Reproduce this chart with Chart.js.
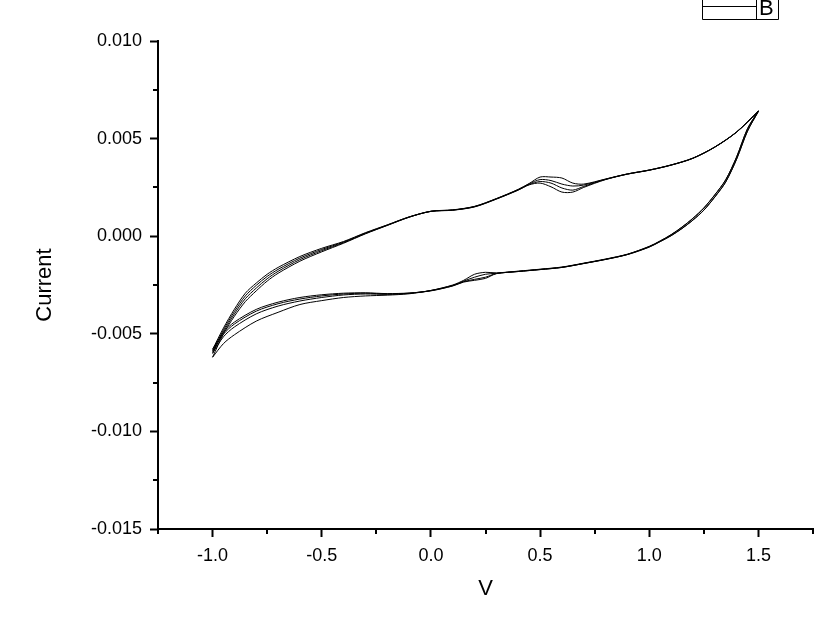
<!DOCTYPE html>
<html>
<head>
<meta charset="utf-8">
<script src="https://cdn.jsdelivr.net/npm/chart.js@4.4.1/dist/chart.umd.min.js"></script>
<style>
  body { margin: 0; background: #fff; }
  canvas { display: block; }
</style>
</head>
<body>
<canvas id="myChart" width="837" height="630"></canvas>
<script>
'use strict';
// potential steps (V), forward sweep and reverse sweep
let fwdV = [-1.0, -0.95, -0.9, -0.85, -0.8, -0.75, -0.7, -0.6, -0.5, -0.4, -0.3, -0.2, -0.1, 0.0, 0.1, 0.2, 0.3, 0.4, 0.45, 0.5, 0.55, 0.6, 0.65, 0.7, 0.8, 0.9, 1.0, 1.1, 1.2, 1.3, 1.4, 1.5];
let revV = [1.5, 1.45, 1.4, 1.35, 1.3, 1.25, 1.2, 1.15, 1.1, 1.05, 1.0, 0.9, 0.8, 0.7, 0.6, 0.5, 0.4, 0.3, 0.25, 0.2, 0.15, 0.1, 0.0, -0.1, -0.2, -0.3, -0.4, -0.5, -0.6, -0.7, -0.8, -0.9, -0.95, -1.0];

// current (A) for each cycle
let fwd1 = [-0.0062, -0.005, -0.0041, -0.00335, -0.0028, -0.0023, -0.0019, -0.00128, -0.0008, -0.00036, 0.00012, 0.00055, 0.00097, 0.00128, 0.00135, 0.00153, 0.00193, 0.0024, 0.0027, 0.00303, 0.00303, 0.00298, 0.00272, 0.00267, 0.00293, 0.00319, 0.00339, 0.00365, 0.004, 0.00457, 0.00534, 0.00642];
let fwd2 = [-0.006, -0.0049, -0.00398, -0.0032, -0.00266, -0.00218, -0.0018, -0.0012, -0.00074, -0.00033, 0.00014, 0.00056, 0.00098, 0.00128, 0.00134, 0.00152, 0.00192, 0.00239, 0.00268, 0.0029, 0.00285, 0.00267, 0.00257, 0.00262, 0.00292, 0.00319, 0.00339, 0.00365, 0.004, 0.00457, 0.00534, 0.00641];
let fwd3 = [-0.0059, -0.0048, -0.00386, -0.00306, -0.00252, -0.00206, -0.0017, -0.00112, -0.00068, -0.0003, 0.00016, 0.00057, 0.00098, 0.00127, 0.00134, 0.00151, 0.00191, 0.00237, 0.00265, 0.0028, 0.00272, 0.00247, 0.00236, 0.00255, 0.00291, 0.00318, 0.00338, 0.00364, 0.00399, 0.00456, 0.00533, 0.0064];
let fwd4 = [-0.0058, -0.0047, -0.00374, -0.00292, -0.0024, -0.00195, -0.0016, -0.00104, -0.00062, -0.00027, 0.00018, 0.00058, 0.00099, 0.00127, 0.00133, 0.0015, 0.0019, 0.00236, 0.00263, 0.00272, 0.00253, 0.00226, 0.00226, 0.0025, 0.0029, 0.00318, 0.00338, 0.00364, 0.00399, 0.00456, 0.00533, 0.00639];

let rev1 = [0.00642, 0.00551, 0.00406, 0.00289, 0.00212, 0.00145, 0.00092, 0.00047, 0.00008, -0.00024, -0.00052, -0.00092, -0.00117, -0.00138, -0.00158, -0.00169, -0.00179, -0.00188, -0.00185, -0.00195, -0.00226, -0.0025, -0.00278, -0.00295, -0.00302, -0.00306, -0.00314, -0.0033, -0.0035, -0.0039, -0.00435, -0.00505, -0.0055, -0.0062];
let rev2 = [0.00641, 0.0055, 0.00405, 0.00288, 0.00211, 0.00144, 0.00091, 0.00046, 0.00007, -0.00025, -0.00053, -0.00093, -0.00118, -0.00139, -0.00159, -0.0017, -0.0018, -0.0019, -0.00195, -0.0021, -0.0023, -0.00252, -0.00278, -0.00293, -0.00298, -0.00296, -0.00301, -0.00314, -0.00332, -0.00358, -0.00398, -0.00465, -0.00515, -0.006];
let rev3 = [0.0064, 0.00539, 0.00395, 0.00278, 0.00201, 0.00134, 0.00083, 0.0004, 0.00003, -0.00027, -0.00055, -0.00094, -0.00119, -0.0014, -0.0016, -0.00171, -0.00181, -0.00191, -0.0021, -0.00221, -0.00233, -0.00254, -0.00279, -0.00292, -0.00296, -0.00292, -0.00296, -0.00306, -0.00322, -0.00346, -0.00384, -0.0045, -0.00502, -0.0059];
let rev4 = [0.00639, 0.00538, 0.00394, 0.00277, 0.002, 0.00133, 0.00082, 0.00039, 0.00002, -0.00028, -0.00056, -0.00094, -0.00119, -0.0014, -0.0016, -0.00171, -0.00181, -0.00192, -0.00216, -0.00226, -0.00235, -0.00255, -0.0028, -0.00291, -0.00294, -0.0029, -0.00292, -0.003, -0.00314, -0.00338, -0.00375, -0.0044, -0.00492, -0.0058];

let xTicks = [-1.0, -0.5, 0.0, 0.5, 1.0, 1.5];
let xMinor = [-1.25, -0.75, -0.25, 0.25, 0.75, 1.25, 1.75];
let yTicks = [0.010, 0.005, 0.000, -0.005, -0.010, -0.015];
let yMinor = [0.0075, 0.0025, -0.0025, -0.0075, -0.0125];
let legendLabel = 'B';

function toPoints(xs, ys) {
    let pts = [];
    for (let i = 0; i < xs.length; i++) {
        pts.push({ x: xs[i], y: ys[i] });
    }
    return pts;
}

let sweeps = [
    [fwdV, fwd1], [revV, rev1],
    [fwdV, fwd2], [revV, rev2],
    [fwdV, fwd3], [revV, rev3],
    [fwdV, fwd4], [revV, rev4]
];

let datasets = sweeps.map(function (s) {
    return {
        label: legendLabel,
        data: toPoints(s[0], s[1]),
        showLine: true,
        borderColor: '#000',
        borderWidth: 1,
        pointRadius: 0,
        tension: 0.3,
        fill: false
    };
});

// minor ticks and the (cut off) legend box
let extras = {
    id: 'extras',
    afterDraw(chart) {
        let ctx = chart.ctx;
        let area = chart.chartArea;
        let xs = chart.scales.x;
        let ys = chart.scales.y;
        ctx.save();
        ctx.strokeStyle = '#000';
        ctx.lineWidth = 2;
        ctx.beginPath();
        xMinor.forEach(function (v) {
            let px = Math.round(xs.getPixelForValue(v));
            ctx.moveTo(px, area.bottom);
            ctx.lineTo(px, area.bottom + 5);
        });
        yMinor.forEach(function (v) {
            let py = Math.round(ys.getPixelForValue(v));
            ctx.moveTo(area.left - 5, py);
            ctx.lineTo(area.left, py);
        });
        ctx.stroke();

        ctx.lineWidth = 1;
        ctx.beginPath();
        ctx.moveTo(702.5, 0);
        ctx.lineTo(702.5, 19.5);
        ctx.lineTo(778.5, 19.5);
        ctx.lineTo(778.5, 0);
        ctx.moveTo(756.5, 0);
        ctx.lineTo(756.5, 19.5);
        ctx.moveTo(703, 6.5);
        ctx.lineTo(756, 6.5);
        ctx.stroke();
        ctx.fillStyle = '#000';
        ctx.font = '22px "Liberation Sans", Arial, sans-serif';
        ctx.textBaseline = 'alphabetic';
        ctx.fillText(legendLabel, 759, 15);
        ctx.restore();
    }
};

let ctx = document.getElementById('myChart').getContext('2d');
let myChart = new Chart(ctx, {
    type: 'scatter',
    data: { datasets: datasets },
    options: {
        responsive: false,
        animation: false,
        layout: { padding: { left: 0, right: 24, top: 41, bottom: 0 } },
        plugins: {
            legend: { display: false },
            tooltip: { enabled: false }
        },
        scales: {
            x: {
                type: 'linear',
                min: -1.25,
                max: 1.75,
                afterBuildTicks: function (s) { s.ticks = xTicks.map(function (v) { return { value: v }; }); },
                afterFit: function (s) { s.height = 101; },
                grid: { drawOnChartArea: false, drawTicks: true, tickLength: 8, tickWidth: 2, tickColor: '#000' },
                border: { display: true, color: '#000', width: 2 },
                ticks: {
                    color: '#000',
                    padding: 8,
                    maxRotation: 0,
                    autoSkip: false,
                    font: { family: '"Liberation Sans", Arial, sans-serif', size: 18 },
                    callback: function (v) { return Number(v).toFixed(1); }
                },
                title: {
                    display: true,
                    text: 'V',
                    color: '#000',
                    font: { family: '"Liberation Sans", Arial, sans-serif', size: 22 },
                    padding: { top: 0, bottom: 28 }
                }
            },
            y: {
                type: 'linear',
                min: -0.015,
                max: 0.010,
                afterBuildTicks: function (s) { s.ticks = yTicks.map(function (v) { return { value: v }; }); },
                afterFit: function (s) { s.width = 158; },
                grid: { drawOnChartArea: false, drawTicks: true, tickLength: 8, tickWidth: 2, tickColor: '#000' },
                border: { display: true, color: '#000', width: 2 },
                ticks: {
                    color: '#000',
                    padding: 8,
                    autoSkip: false,
                    font: { family: '"Liberation Sans", Arial, sans-serif', size: 18 },
                    callback: function (v) { return Number(v).toFixed(3); }
                },
                title: {
                    display: true,
                    text: 'Current',
                    color: '#000',
                    font: { family: '"Liberation Sans", Arial, sans-serif', size: 22 },
                    padding: { top: 32, bottom: 0 }
                }
            }
        }
    },
    plugins: [extras]
});
</script>
</body>
</html>
